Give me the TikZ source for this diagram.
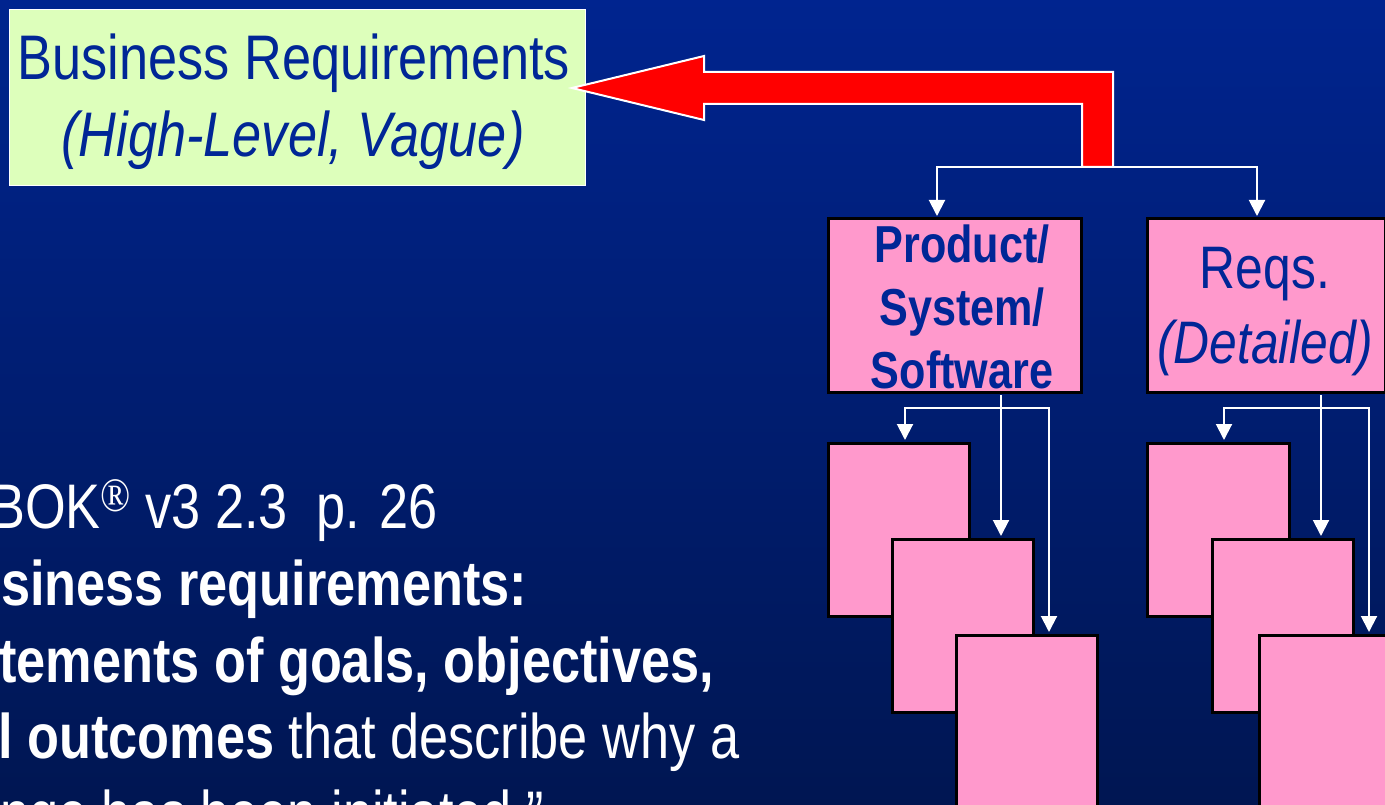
\documentclass[tikz,border=0pt]{standalone}
\usepackage{fontspec}
\setmainfont{Liberation Sans}[FakeStretch=0.83]
\newfontfamily\regmark{Liberation Serif}[FakeStretch=0.83]
\usetikzlibrary{arrows.meta}

\definecolor{bgtop}{RGB}{0,36,143}
\definecolor{bgbot}{RGB}{0,22,82}
\definecolor{paleg}{RGB}{221,255,187}
\definecolor{inkblue}{RGB}{0,38,150}
\definecolor{pinkbox}{RGB}{255,153,204}
\definecolor{arrowred}{RGB}{255,0,0}

\begin{document}
\begin{tikzpicture}[x=1pt,y=-1pt,
  pbox/.style={draw=black,line width=3pt,fill=pinkbox,inner sep=0pt,anchor=north west},
  wire/.style={draw=white,line width=2pt},
  arrowtip/.style={-{Triangle[width=16pt,length=16pt]},shorten >=1.5pt},
  lbl/.style={inner sep=0pt,anchor=base,text=inkblue},
  body/.style={inner sep=0pt,anchor=base west,text=white,font=\fontsize{63}{77}\selectfont}
]
\useasboundingbox (0,0) rectangle (1385,805);
\begin{scope}
\clip (0,0) rectangle (1385,805);
% background
\shade[top color=bgtop,bottom color=bgbot] (0,0) rectangle (1385,805);

% business requirements box
\node[draw=white,line width=1.5pt,fill=paleg,inner sep=0pt,anchor=north west,
      minimum width=576pt,minimum height=176pt] (br) at (8.75,8.75) {};
\node[lbl,font=\fontsize{63}{63}\selectfont] (brA) at (294,80) {Business Requirements};
\node[lbl,font=\fontsize{63}{63}\selectfont\itshape] (brB) at (293,157) {(High-Level, Vague)};

% upper level boxes
\node[pbox,minimum width=253pt,minimum height=173pt] (prod) at (826.5,217.5) {};
\node[pbox,minimum width=238pt,minimum height=173pt] (reqs) at (1145.5,217.5) {};
\node[lbl,font=\fontsize{52}{52}\selectfont\bfseries] (prodA) at (962,262) {Product/};
\node[lbl,font=\fontsize{52}{52}\selectfont\bfseries] (prodB) at (962,326) {System/};
\node[lbl,font=\fontsize{52}{52}\selectfont\bfseries] (prodC) at (962,388) {Software};
\node[lbl,font=\fontsize{60}{60}\selectfont] (reqsA) at (1265,288) {Reqs.};
\node[lbl,font=\fontsize{60}{60}\selectfont\itshape] (reqsB) at (1265,363) {(Detailed)};

% lower level stacks
\node[pbox,minimum width=141pt,minimum height=173pt] (p1) at (826.5,441.5) {};
\node[pbox,minimum width=141pt,minimum height=173pt] (p2) at (890.5,537.5) {};
\node[pbox,minimum width=141pt,minimum height=200pt] (p3) at (954.5,633.5) {};
\node[pbox,minimum width=142pt,minimum height=173pt] (r1) at (1145.5,441.5) {};
\node[pbox,minimum width=141pt,minimum height=173pt] (r2) at (1210.5,537.5) {};
\node[pbox,minimum width=200pt,minimum height=200pt] (r3) at (1257.5,633.5) {};

% red block arrow back to the business requirements
\draw[white,line width=2pt,fill=arrowred]
  (572,88) -- (704,56) -- (704,72) -- (1113,72) -- (1113,167) -- (1082,167)
  -- (1082,104) -- (704,104) -- (704,120) -- cycle;

% connectors
\coordinate (tl) at (937,167);
\coordinate (tm) at (1097.5,167);
\coordinate (tr) at (1257,167);
\draw[wire,arrowtip] (tm) -| (tl |- prod.north);
\draw[wire,arrowtip] (tm) -| (tr |- reqs.north);

\coordinate (pl) at (905,408);
\coordinate (pm) at (1001,408);
\coordinate (pr) at (1049,408);
\draw[wire,arrowtip] (pm) -| (pl |- p1.north);
\draw[wire,arrowtip] (pm) -| (pr |- p3.north);
\draw[wire,arrowtip,shorten <=1.5pt] (pm |- prod.south) -- (pm |- p2.north);

\coordinate (rl) at (1224,408);
\coordinate (rm) at (1321,408);
\coordinate (rr) at (1369,408);
\draw[wire,arrowtip] (rm) -| (rl |- r1.north);
\draw[wire,arrowtip] (rm) -| (rr |- r3.north);
\draw[wire,arrowtip,shorten <=1.5pt] (rm |- reqs.south) -- (rm |- r2.north);

% quotation
\node[body] (q1) at (-10,528) {BOK\raisebox{17pt}{\regmark\fontsize{48}{48}\selectfont ®} v3 2.3\ \ p. 26};
\node[body] (q2) at (1,605) {\bfseries siness requirements:};
\node[body] (q3) at (-1,682) {\bfseries tements of goals, objectives,};
\node[body] (q4) at (-2,758) {\textbf{l outcomes} that describe why a};
\node[body] (q5) at (0,835) {nge has been initiated.”};
\end{scope}
\end{tikzpicture}
\end{document}
